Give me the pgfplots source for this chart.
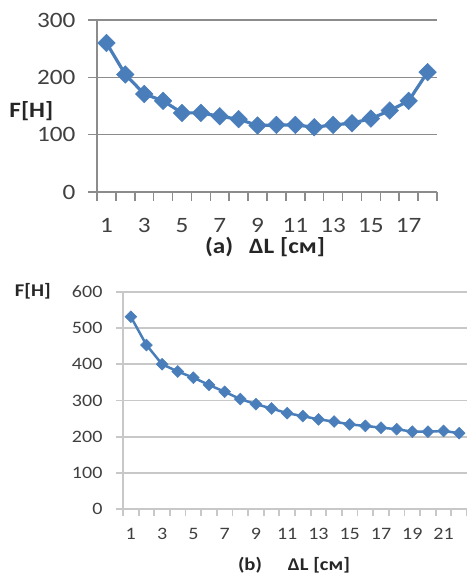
\documentclass[border=0pt]{standalone}
\usepackage{fontspec}
\setmainfont{Carlito}[FakeStretch=1.15]
\usepackage{pgfplots}
\pgfplotsset{compat=1.18}
\definecolor{serblue}{RGB}{74,126,187}
\definecolor{gridA}{RGB}{140,140,140}
\definecolor{gridB}{RGB}{200,200,200}
\definecolor{ticktext}{RGB}{64,64,64}
\definecolor{labtext}{RGB}{38,38,38}
\begin{document}
\begin{tikzpicture}
\useasboundingbox (0bp,0bp) rectangle (467bp,-574bp);
% ---------- (a)
\begin{axis}[
  at={(97bp,-192bp)}, anchor=south west,
  scale only axis, width=340bp, height=172bp,
  /pgf/number format/assume math mode=true,
  xmin=0.5, xmax=18.5, ymin=0, ymax=300,
  xtick={1,3,...,17}, ytick={0,100,200,300},
  minor xtick={0.5,1.5,...,18.5}, minor ytick={0,100,200,300},
  major tick length=0pt, minor tick length=9bp,
  tick align=outside, tick pos=left,
  axis x line*=bottom, axis y line*=left,
  axis line style={draw=gridA, line width=1.5bp, -},
  minor tick style={draw=gridA, line width=1.5bp},
  ymajorgrids, major grid style={draw=gridA, line width=1.5bp},
  tick label style={font=\fontsize{22}{24}\selectfont, text=ticktext},
  xticklabel style={anchor=north, yshift=-23bp},
  yticklabel style={anchor=east, xshift=-18bp},
  every axis x label/.style={at={(axis description cs:0.5,0)}, anchor=base, yshift=-61bp, xshift=-2bp, font=\fontsize{22}{24}\selectfont\bfseries, text=labtext},
  every axis y label/.style={at={(axis description cs:-0.193,0.436)}, anchor=base, font=\fontsize{22}{24}\selectfont\bfseries, text=labtext},
  xlabel={(a)\hspace{16bp}ΔL [см]},
  ylabel={F[Н]},
  clip=false,
]
\addplot[serblue, line width=3.2bp, mark=square*, mark size=6.2bp, mark options={rotate=45, fill=serblue, draw=serblue, line width=0.5bp}]
coordinates {
(1,260) (2,205) (3,171) (4,159) (5,138) (6,138) (7,132) (8,127) (9,116)
(10,117) (11,117) (12,113) (13,117) (14,120) (15,128) (16,142) (17,159) (18,209)
};
\end{axis}
% ---------- (b)
\begin{axis}[
  at={(123bp,-509.3bp)}, anchor=south west,
  scale only axis, width=344bp, height=217.6bp,
  /pgf/number format/assume math mode=true,
  xmin=0.5, xmax=22.5, ymin=0, ymax=600,
  xtick={1,3,...,21}, ytick={0,100,...,600},
  minor xtick={0.5,1.5,...,22.5}, minor ytick={0,100,...,600},
  major tick length=0pt, minor tick length=7bp,
  tick align=outside, tick pos=left,
  axis x line*=bottom, axis y line*=left,
  axis line style={draw=gridB, line width=1.8bp, -},
  minor tick style={draw=gridB, line width=1.8bp},
  ymajorgrids, major grid style={draw=gridB, line width=1.8bp},
  tick label style={font=\fontsize{17.5}{19}\selectfont, text=ticktext},
  xticklabel style={anchor=north, yshift=-15bp},
  yticklabel style={anchor=east, xshift=-17bp},
  every axis x label/.style={at={(axis description cs:0.5,0)}, anchor=base, yshift=-61bp, xshift=-1bp, font=\fontsize{18}{20}\selectfont\bfseries, text=labtext},
  every axis y label/.style={at={(axis description cs:-0.262,0.976)}, anchor=base, font=\fontsize{18}{20}\selectfont\bfseries, text=labtext},
  xlabel={(b)\hspace{26bp}ΔL [см]},
  ylabel={F[Н]},
  clip=false,
]
\addplot[serblue, line width=2.5bp, mark=square*, mark size=4.2bp, mark options={rotate=45, fill=serblue, draw=serblue, line width=0.5bp}]
coordinates {
(1,531) (2,453) (3,400) (4,380) (5,363) (6,343) (7,324) (8,304) (9,290) (10,278) (11,265)
(12,257) (13,248) (14,242) (15,234) (16,230) (17,225) (18,221) (19,214) (20,214) (21,216) (22,210)
};
\end{axis}
\end{tikzpicture}
\end{document}
